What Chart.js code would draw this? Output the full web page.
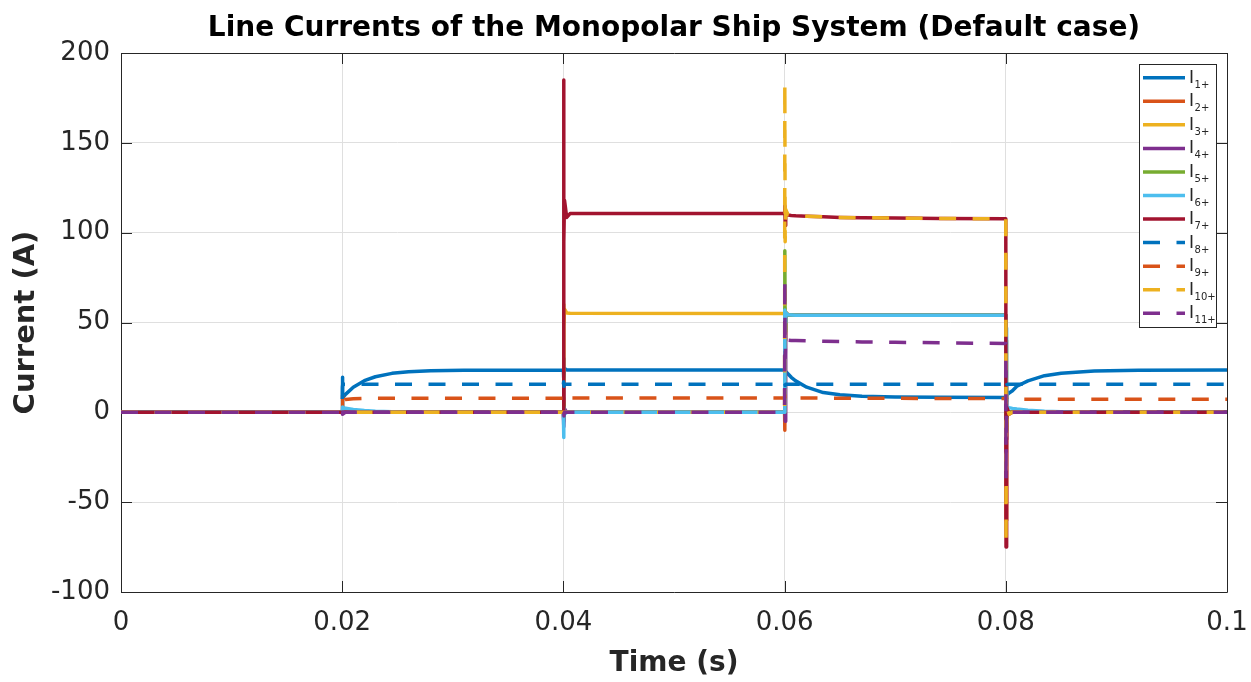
<!DOCTYPE html>
<html>
<head>
<meta charset="utf-8">
<title>Line Currents of the Monopolar Ship System</title>
<script src="https://cdn.jsdelivr.net/npm/chart.js@4/dist/chart.umd.min.js"></script>
<style>
  html, body { margin: 0; padding: 0; background: #ffffff; }
  canvas { display: block; }
</style>
</head>
<body>
<canvas id="chart" width="1251" height="682"></canvas>
<script>
// Simulation time stamps (s)
const t = [
  0, 0.02, 0.02002, 0.02005, 0.0203, 0.021, 0.022, 0.023, 0.0245, 0.026, 0.028, 0.031,
  0.04, 0.04002, 0.04005, 0.0401, 0.0403, 0.0406,
  0.06, 0.06002, 0.06005, 0.0601, 0.0603, 0.0606, 0.061, 0.062, 0.0635, 0.065, 0.067, 0.07, 0.074,
  0.08, 0.08002, 0.08005, 0.0801, 0.0803, 0.0806, 0.081, 0.082, 0.0835, 0.085, 0.088, 0.092, 0.1
];

// Line currents (A)
const i1 = [
  0, 0, 19.5, 8, 10, 14, 17.6, 19.8, 21.7, 22.6, 23.1, 23.4,
  23.5, 30, 18, 24.5, 23.6, 23.6,
  23.7, 27, 21, 22.8, 21.5, 19.5, 17.5, 14, 11, 9.8, 8.9, 8.5, 8.4,
  8.3, 12, 6, 9.5, 10.8, 12, 14.5, 17.5, 20.4, 21.8, 23, 23.4, 23.5
];
const i2 = [
  0, 0, 9.5, 3, 1, 0, 0, 0, 0, 0, 0, 0,
  0, 8, -5, 1, 0, 0,
  0, -10, 40, 55.5, 54.3, 54.2, 54.1, 54.1, 54, 54, 54, 54, 54,
  54, -60, 10, -3, 0.5, 0, 0, 0, 0, 0, 0, 0, 0
];
const i3 = [
  0, 0, 0, 0, 0, 0, 0, 0, 0, 0, 0, 0,
  0, 60, 48, 57.5, 55.3, 55.1,
  55, 58, 50, 55.5, 54.3, 54.2, 54.1, 54.1, 54, 54, 54, 54, 54,
  54, 40, 0, 0, 0, 0, 0, 0, 0, 0, 0, 0, 0
];
const i4 = [
  0, 0, 1.5, -1, 0, 0, 0, 0, 0, 0, 0, 0,
  0, 14, -8, 2, 0, 0,
  0, 20, -5, 55.5, 54.3, 54.2, 54.1, 54.1, 54, 54, 54, 54, 54,
  54, 15, -15, 2, 0, 0, 0, 0, 0, 0, 0, 0, 0
];
const i5 = [
  0, 0, 0, 0, 0, 0, 0, 0, 0, 0, 0, 0,
  0, 5, -3, 0, 0, 0,
  0, 90, 45, 55.5, 54.3, 54.2, 54.1, 54.1, 54, 54, 54, 54, 54,
  54, -10, 3, 0, 0, 0, 0, 0, 0, 0, 0, 0, 0
];
const i6 = [
  0, 0, 3, 2.6, 2.3, 1.6, 1.0, 0.6, 0.3, 0.1, 0, 0,
  0, -14, 3, -1, 0, 0,
  0, 57, 50, 55.5, 54.3, 54.2, 54.1, 54.1, 54, 54, 54, 54, 54,
  54, 47, 4, 3, 2.6, 2.2, 1.8, 1.2, 0.6, 0.3, 0.1, 0, 0
];
const i7 = [
  0, 0, 0, 0, 0, 0, 0, 0, 0, 0, 0, 0,
  0, 185, 95, 118, 108.5, 110.6,
  110.7, 115, 104, 112, 109.8, 109.6, 109.4, 109.1, 108.8, 108.5, 108.3, 108.1, 107.9,
  107.7, -75, -8, 3, -1, 0, 0, 0, 0, 0, 0, 0, 0
];
const i8 = [
  0, 0, 14, 15.6, 15.6, 15.6, 15.6, 15.6, 15.6, 15.6, 15.6, 15.6,
  15.6, 17, 14.5, 15.6, 15.6, 15.6,
  15.6, 17, 15, 15.6, 15.6, 15.6, 15.6, 15.6, 15.6, 15.6, 15.6, 15.6, 15.6,
  15.6, 13, 16.5, 15.6, 15.6, 15.6, 15.6, 15.6, 15.6, 15.6, 15.6, 15.6, 15.6
];
const i9 = [
  0, 0, 5, 6, 7.2, 7.5, 7.7, 7.8, 7.8, 7.8, 7.8, 7.8,
  7.8, 9, 7, 8, 8, 8,
  8, 9.5, 7.5, 8.1, 8, 8, 8, 8, 7.9, 7.9, 7.8, 7.8, 7.7,
  7.7, 5, 8, 7.2, 7.3, 7.3, 7.3, 7.3, 7.3, 7.3, 7.3, 7.3, 7.3
];
const i10 = [
  0, 0, 0, 0, 0, 0, 0, 0, 0, 0, 0, 0,
  0, 0, 0, 0, 0, 0,
  0, 183, 95, 113, 110, 109.6, 109.4, 109.1, 108.8, 108.5, 108.3, 108.1, 107.9,
  107.7, -74, -8, 3, -1, 0, 0, 0, 0, 0, 0, 0, 0
];
const i11 = [
  0, 0, -4.5, 0, 0, 0, 0, 0, 0, 0, 0, 0,
  0, 3, -2, 0, 0, 0,
  0, 75, 30, 42, 40.2, 40, 40, 39.8, 39.6, 39.4, 39.2, 39, 38.7,
  38.3, -38, 2, 0, 0, 0, 0, 0, 0, 0, 0, 0, 0
];

const seriesValues = [i1, i2, i3, i4, i5, i6, i7, i8, i9, i10, i11];
const seriesNames = ['I1+', 'I2+', 'I3+', 'I4+', 'I5+', 'I6+', 'I7+', 'I8+', 'I9+', 'I10+', 'I11+'];
const seriesSubscripts = ['1+', '2+', '3+', '4+', '5+', '6+', '7+', '8+', '9+', '10+', '11+'];

// Axis ticks
const xTickValues = [0, 0.02, 0.04, 0.06, 0.08, 0.1];
const xTickLabels = ['0', '0.02', '0.04', '0.06', '0.08', '0.1'];
const yTickValues = [-100, -50, 0, 50, 100, 150, 200];
const yTickLabels = ['-100', '-50', '0', '50', '100', '150', '200'];

// Styling
const palette = ['#0072BD', '#D95319', '#EDB120', '#7E2F8E', '#77AC30', '#4DBEEE', '#A2142F',
                 '#0072BD', '#D95319', '#EDB120', '#7E2F8E'];
const isDashed = [false, false, false, false, false, false, false, true, true, true, true];
const DASH = [17, 16.5];
const LINE_W = 3.5;
const AXIS_COLOR = '#262626';
const FONT = "'DejaVu Sans', sans-serif";

Chart.defaults.font.family = FONT;
Chart.defaults.color = AXIS_COLOR;

const datasets = seriesValues.map((vals, k) => ({
  label: seriesNames[k],
  data: t.map((x, j) => ({ x: x, y: vals[j] })),
  borderColor: palette[k],
  backgroundColor: palette[k],
  borderWidth: LINE_W,
  borderDash: isDashed[k] ? DASH : [],
  borderCapStyle: 'butt',
  borderJoinStyle: 'round',
  pointRadius: 0,
  pointHoverRadius: 0,
  tension: 0,
  fill: false,
  // later series are painted over earlier ones
  order: seriesValues.length - 1 - k
}));

// Axes box with inward tick marks
const framePlugin = {
  id: 'frame',
  beforeDatasetsDraw(chart) {
    const { ctx, chartArea: a, scales } = chart;
    const tl = 11;
    ctx.save();
    ctx.strokeStyle = AXIS_COLOR;
    ctx.lineWidth = 1;
    ctx.beginPath();
    ctx.rect(Math.round(a.left) + 0.5, Math.round(a.top) + 0.5,
             Math.round(a.right - a.left), Math.round(a.bottom - a.top));
    xTickValues.forEach(v => {
      const px = Math.round(scales.x.getPixelForValue(v)) + 0.5;
      ctx.moveTo(px, a.bottom); ctx.lineTo(px, a.bottom - tl);
      ctx.moveTo(px, a.top); ctx.lineTo(px, a.top + tl);
    });
    yTickValues.forEach(v => {
      const py = Math.round(scales.y.getPixelForValue(v)) + 0.5;
      ctx.moveTo(a.left, py); ctx.lineTo(a.left + tl, py);
      ctx.moveTo(a.right, py); ctx.lineTo(a.right - tl, py);
    });
    ctx.stroke();
    ctx.restore();
  }
};

// Legend box with subscripted labels
const legendPlugin = {
  id: 'subLegend',
  afterDatasetsDraw(chart) {
    const { ctx } = chart;
    const box = { x: 1139, y: 64, w: 77, h: 263 };
    const row0 = 77.7, rowStep = 23.56;
    const lineX0 = 1143, lineX1 = 1185, textX = 1189;
    ctx.save();
    ctx.fillStyle = '#ffffff';
    ctx.fillRect(box.x, box.y, box.w, box.h);
    ctx.strokeStyle = AXIS_COLOR;
    ctx.lineWidth = 1;
    ctx.strokeRect(box.x + 0.5, box.y + 0.5, box.w, box.h);
    chart.data.datasets.forEach((ds, k) => {
      const y = row0 + k * rowStep;
      ctx.beginPath();
      ctx.setLineDash(ds.borderDash || []);
      ctx.lineDashOffset = 0;
      ctx.lineCap = 'butt';
      ctx.strokeStyle = ds.borderColor;
      ctx.lineWidth = LINE_W;
      ctx.moveTo(lineX0, y);
      ctx.lineTo(lineX1, y);
      ctx.stroke();
      ctx.setLineDash([]);
      ctx.fillStyle = AXIS_COLOR;
      ctx.textAlign = 'left';
      ctx.textBaseline = 'alphabetic';
      ctx.font = '17px ' + FONT;
      ctx.fillText('I', textX, y + 5);
      const w = ctx.measureText('I').width;
      ctx.font = '10px ' + FONT;
      ctx.fillText(seriesSubscripts[k], textX + w + 0.5, y + 10);
    });
    ctx.restore();
  }
};

// Figure title centred over the plot area
const headingPlugin = {
  id: 'heading',
  afterDraw(chart) {
    const { ctx, chartArea: a } = chart;
    ctx.save();
    ctx.font = 'bold 28px ' + FONT;
    ctx.fillStyle = '#000000';
    ctx.textAlign = 'center';
    ctx.textBaseline = 'middle';
    ctx.fillText('Line Currents of the Monopolar Ship System (Default case)', (a.left + a.right) / 2, 29);
    ctx.restore();
  }
};

new Chart(document.getElementById('chart'), {
  type: 'line',
  data: { datasets: datasets },
  options: {
    responsive: false,
    animation: false,
    devicePixelRatio: 1,
    events: [],
    layout: { padding: { top: 53, right: 24, bottom: 0, left: 0 } },
    plugins: {
      legend: { display: false },
      title: { display: false },
      tooltip: { enabled: false }
    },
    scales: {
      x: {
        type: 'linear',
        min: 0,
        max: 0.1,
        afterFit(scale) {
          scale.height = 90;
          scale.paddingLeft = 0;
          scale.paddingRight = 0;
        },
        afterBuildTicks(scale) { scale.ticks = xTickValues.map(v => ({ value: v })); },
        ticks: {
          callback: (v, i) => xTickLabels[i],
          font: { size: 26 },
          color: AXIS_COLOR,
          padding: 16,
          maxRotation: 0,
          autoSkip: false
        },
        grid: { color: '#dfdfdf', lineWidth: 1, drawTicks: false },
        border: { display: false },
        title: {
          display: true,
          text: 'Time (s)',
          font: { size: 28, weight: 'bold' },
          color: AXIS_COLOR,
          padding: { top: 0, bottom: 1 }
        }
      },
      y: {
        type: 'linear',
        min: -100,
        max: 200,
        afterFit(scale) {
          scale.width = 121;
          scale.paddingTop = 0;
          scale.paddingBottom = 0;
        },
        afterBuildTicks(scale) { scale.ticks = yTickValues.map(v => ({ value: v })); },
        ticks: {
          callback: (v, i) => yTickLabels[i],
          font: { size: 26 },
          color: AXIS_COLOR,
          padding: 11,
          autoSkip: false
        },
        grid: { color: '#dfdfdf', lineWidth: 1, drawTicks: false },
        border: { display: false },
        title: {
          display: true,
          text: 'Current (A)',
          font: { size: 29, weight: 'bold' },
          color: AXIS_COLOR,
          padding: { top: 9, bottom: 0 }
        }
      }
    }
  },
  plugins: [framePlugin, legendPlugin, headingPlugin]
});
</script>
</body>
</html>
